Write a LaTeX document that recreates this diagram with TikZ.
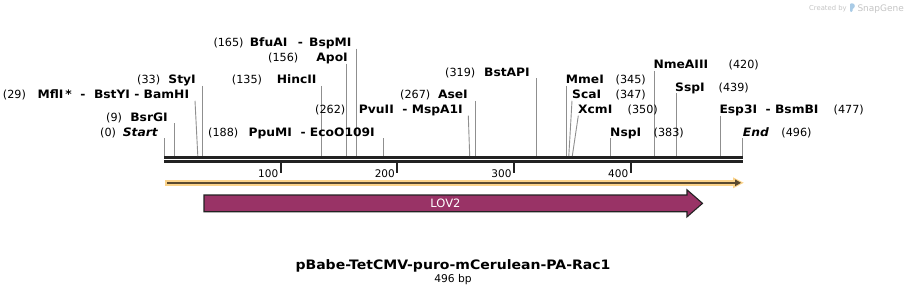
\documentclass[tikz,border=0pt]{standalone}
\usepackage{fontspec}
\setmainfont{DejaVu Sans}
\newfontfamily\labfont{DejaVu Sans}[FakeStretch=1.06]
\newfontfamily\titfont{DejaVu Sans}[FakeStretch=1.08]
\usetikzlibrary{arrows.meta}
\definecolor{enzc}{HTML}{8F8F8F}
\definecolor{darkc}{HTML}{222222}
\definecolor{lovc}{HTML}{993366}
\definecolor{haloc}{HTML}{FBD38A}
\definecolor{orin}{HTML}{5A4A30}
\definecolor{logoc}{HTML}{C4C4C4}
\definecolor{logob}{HTML}{A9CBE6}
\begin{document}
\begin{tikzpicture}[x=1pt,y=-1pt,
  num/.style={font=\fontsize{11.2}{13}\selectfont, inner sep=0pt, text=black},
  enz/.style={font=\labfont\bfseries\fontsize{11.6}{13}\selectfont, inner sep=0pt, text=black},
  enzi/.style={font=\labfont\bfseries\itshape\fontsize{11.6}{13}\selectfont, inner sep=0pt, text=black},
  enzl/.style={draw=enzc, line width=0.9pt},
  bbline/.style={draw=darkc, line width=2.7pt},
  tickl/.style={draw=darkc, line width=1.7pt},
  ticklab/.style={font=\fontsize{10.5}{12}\selectfont, inner sep=0pt, anchor=base east},
]
\useasboundingbox (0,0) rectangle (907,295);

% backbone
\coordinate (bbL) at (164,157.3);
\coordinate (bbR) at (742.7,157.3);
\coordinate (bbL2) at (164,161.3);
\coordinate (bbR2) at (742.7,161.3);
\draw[bbline] (bbL) -- (bbR);
\draw[bbline] (bbL2) -- (bbR2);

% ticks
\foreach \xx/\lab in {280.7/100, 397.3/200, 514/300, 630.7/400}{
  \coordinate (tk\lab) at (\xx,162.5);
  \draw[tickl] (tk\lab) -- ++(0,10);
  \node[ticklab] (tl\lab) at (\xx-2.3,177) {\lab};
}

% enzyme line tops (straight)
\foreach \nm/\xx/\yy in {St/164/138, Bs/174.5/123.1, Sty/202.5/85.85, Hin/321.5/85.85,
  Apo/346/63.5, Bfu/356.5/48.6, Ppu/383.3/138, Ase/475.5/100.75, Bst/536.2/78.4,
  Mme/566.5/85.85, Nsp/610.8/138, Nme/654/70.95, Ssp/676.2/93.3, Esp/720.5/115.65, En/742.7/138}{
  \coordinate (t\nm) at (\xx,\yy);
  \coordinate (b\nm) at (\xx,156);
  \draw[enzl] (t\nm) -- (b\nm);
}
% angled lines
\coordinate (tMfl) at (195,100.75);   \coordinate (bMfl) at (197.8,156);
\coordinate (tPvu) at (468.3,115.65); \coordinate (bPvu) at (469.7,156);
\coordinate (tSca) at (572,100.75);   \coordinate (bSca) at (568.8,156);
\coordinate (tXcm) at (578.3,115.65); \coordinate (bXcm) at (572.3,156);
\draw[enzl] (tMfl) -- (bMfl);
\draw[enzl] (tPvu) -- (bPvu);
\draw[enzl] (tSca) -- (bSca);
\draw[enzl] (tXcm) -- (bXcm);

% left-side labels
\node[num,anchor=base west] (n0) at (100,136) {(0)};
\node[enzi,anchor=base east] (s0) at (158,136) {Start};
\node[num,anchor=base west] (n9) at (106,121.1) {(9)};
\node[enz,anchor=base east] (s9) at (168,121.1) {BsrGI};
\node[num,anchor=base west] (n29) at (2.7,98.75) {(29)};
\node[enz,anchor=base east] (s29) at (189.3,98.75) {MflI\,*\ \ -\ \ BstYI\ -\ BamHI};
\node[num,anchor=base west] (n33) at (137,83.85) {(33)};
\node[enz,anchor=base east] (s33) at (196,83.85) {StyI};
\node[num,anchor=base west] (n135) at (231.7,83.85) {(135)};
\node[enz,anchor=base east] (s135) at (316.7,83.85) {HincII};
\node[num,anchor=base west] (n156) at (268,61.5) {(156)};
\node[enz,anchor=base east] (s156) at (348,61.5) {ApoI};
\node[num,anchor=base west] (n165) at (213.3,46.6) {(165)};
\node[enz,anchor=base east] (s165) at (351.7,46.6) {BfuAI\ \ \,-\ \,BspMI};
\node[num,anchor=base west] (n188) at (208,136) {(188)};
\node[enz,anchor=base east] (s188) at (375,136) {PpuMI\ \ -\ EcoO109I};
\node[num,anchor=base west] (n262) at (315,113.65) {(262)};
\node[enz,anchor=base east] (s262) at (463,113.65) {PvuII\ \ -\ MspA1I};
\node[num,anchor=base west] (n267) at (400,98.75) {(267)};
\node[enz,anchor=base east] (s267) at (468,98.75) {AseI};
\node[num,anchor=base west] (n319) at (445,76.4) {(319)};
\node[enz,anchor=base east] (s319) at (530,76.4) {BstAPI};

% right-side labels
\node[enz,anchor=base west] (s345) at (565.7,83.85) {MmeI};
\node[num,anchor=base east] (n345) at (646,83.85) {(345)};
\node[enz,anchor=base west] (s347) at (572,98.75) {ScaI};
\node[num,anchor=base east] (n347) at (646,98.75) {(347)};
\node[enz,anchor=base west] (s350) at (578,113.65) {XcmI};
\node[num,anchor=base east] (n350) at (658,113.65) {(350)};
\node[enz,anchor=base west] (s383) at (610,136) {NspI};
\node[num,anchor=base east] (n383) at (684,136) {(383)};
\node[enz,anchor=base west] (s420) at (653.3,68.95) {NmeAIII};
\node[num,anchor=base east] (n420) at (759,68.95) {(420)};
\node[enz,anchor=base west] (s439) at (675,91.3) {SspI};
\node[num,anchor=base east] (n439) at (749,91.3) {(439)};
\node[enz,anchor=base west] (s477) at (719.3,113.65) {Esp3I\ \ -\ BsmBI};
\node[num,anchor=base east] (n477) at (864,113.65) {(477)};
\node[enzi,anchor=base west] (s496) at (742.7,136) {End};
\node[num,anchor=base east] (n496) at (811.7,136) {(496)};

% orange sequence arrow
\coordinate (oaL) at (165,182.8);
\coordinate (oaR) at (736,182.8);
\draw[haloc, line width=5.5pt] (oaL) -- (oaR);
\fill[haloc] (733,177.3) -- (743.8,182.8) -- (733,188.3) -- cycle;
\coordinate (oiL) at (167,182.8);
\draw[orin, line width=2pt] (oiL) -- (oaR);
\fill[orin] (735,179.4) -- (741,182.8) -- (735,186.2) -- cycle;

% LOV2 feature
\draw[fill=lovc, draw=darkc, line width=1.1pt, line join=miter]
  (204,195) -- (687,195) -- (687,189.8) -- (702.5,203.35) -- (687,216.9) -- (687,211.7) -- (204,211.7) -- cycle;
\node[font=\fontsize{11.5}{13}\selectfont, text=white, inner sep=0pt] (lov) at (445.5,203.4) {LOV2};

% title
\node[font=\titfont\bfseries\fontsize{13}{15}\selectfont, inner sep=0pt, anchor=base] (title) at (453,269.3) {pBabe-TetCMV-puro-mCerulean-PA-Rac1};
\node[font=\fontsize{10.7}{12}\selectfont, inner sep=0pt, anchor=base] (bp) at (453,282.7) {496 bp};

% SnapGene mark
\node[font=\fontsize{6.8}{8}\selectfont, text=logoc, inner sep=0pt, anchor=base west] (cby) at (809,10.5) {Created by};
\fill[logob, rounded corners=1pt] (850,3.4) -- (853.5,3.4) .. controls (855,5) and (855,7) .. (853.5,8.3) -- (852.6,8.3) -- (852.6,11.8) -- (850,11.8) -- cycle;
\node[font=\fontsize{9}{10}\selectfont, text=logoc, inner sep=0pt, anchor=base west] (sg) at (857.3,11) {SnapGene};
\end{tikzpicture}
\end{document}
